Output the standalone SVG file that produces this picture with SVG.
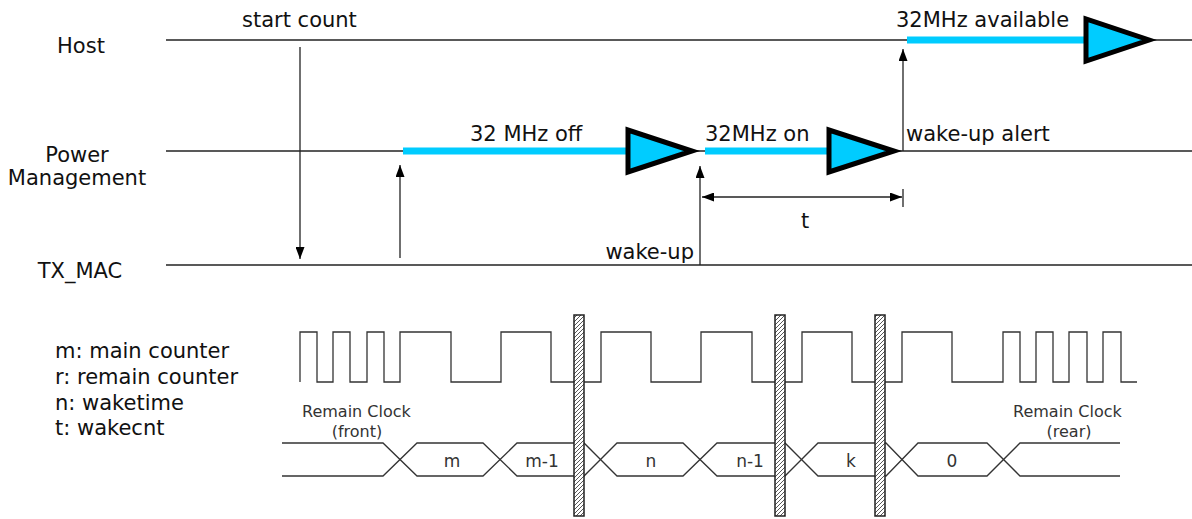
<svg xmlns="http://www.w3.org/2000/svg" width="1192" height="519" viewBox="0 0 1192 519">
<style>
text{font-family:"DejaVu Sans","Verdana",sans-serif;fill:#111}
.lbl{font-size:21px}
.sm{font-size:16px;fill:#333}
.bl{font-size:17px;fill:#333}
.lane{stroke:#222;stroke-width:1.3;fill:none}
.arr{stroke:#222;stroke-width:1.3;fill:none;marker-end:url(#ah)}
.cyan{stroke:#00CCFF;stroke-width:7;fill:none}
.tri{fill:#00CCFF;stroke:#000;stroke-width:5;stroke-linejoin:miter;stroke-miterlimit:10}
.wave{stroke:#333;stroke-width:1.3;fill:none}
.bar{fill:url(#hatch);stroke:#222;stroke-width:1.5}
</style>
<defs>
<marker id="ah" viewBox="0 0 12 9" refX="12" refY="4.5" markerWidth="12" markerHeight="9" markerUnits="userSpaceOnUse" orient="auto-start-reverse"><path d="M0,0 L12,4.5 L0,9 z" fill="#000"/></marker>
<pattern id="hatch" patternUnits="userSpaceOnUse" width="4" height="4"><rect width="4" height="4" fill="#fff"/><path d="M-1,1 L1,-1 M0,4 L4,0 M3,5 L5,3" stroke="#444" stroke-width="0.9"/></pattern>
</defs>
<g id="lanes">
<line class="lane" x1="166" y1="40" x2="1192" y2="40"/>
<line class="lane" x1="166" y1="151" x2="1192" y2="151"/>
<line class="lane" x1="166" y1="265" x2="1192" y2="265"/>
<text class="lbl" x="81" y="53" text-anchor="middle">Host</text>
<text class="lbl" x="77" y="162" text-anchor="middle">Power</text>
<text class="lbl" x="77" y="185" text-anchor="middle">Management</text>
<text class="lbl" x="80" y="278" text-anchor="middle">TX_MAC</text>
</g>
<g id="phase-off">
<line class="cyan" x1="403" y1="151" x2="628" y2="151"/>
<polygon class="tri" points="628,130 628,172 692,151"/>
<text class="lbl" x="470" y="141">32 MHz off</text>
</g>
<g id="phase-on">
<line class="cyan" x1="705" y1="151" x2="829" y2="151"/>
<polygon class="tri" points="829,130 829,172 894,151"/>
<text class="lbl" x="705" y="141">32MHz on</text>
</g>
<g id="phase-available">
<line class="cyan" x1="907" y1="40" x2="1086" y2="40"/>
<polygon class="tri" points="1086,19 1086,61 1149,40"/>
<text class="lbl" x="896" y="27">32MHz available</text>
</g>
<g id="connectors">
<line class="arr" x1="300" y1="47" x2="300" y2="259"/>
<line class="arr" x1="400" y1="258" x2="400" y2="165"/>
<line class="arr" x1="700" y1="265" x2="700" y2="166"/>
<line class="arr" x1="903" y1="151" x2="903" y2="49"/>
<line class="arr" x1="702" y1="197" x2="902" y2="197" style="marker-start:url(#ah)"/>
<line class="lane" x1="903" y1="189" x2="903" y2="207"/>
</g>
<g id="annotations">
<text class="lbl" x="242" y="27">start count</text>
<text class="lbl" x="694" y="259" text-anchor="end">wake-up</text>
<text class="lbl" x="906" y="141">wake-up alert</text>
<text class="lbl" x="805" y="228" text-anchor="middle">t</text>
</g>
<g id="legend">
<text class="lbl" x="55" y="358">m: main counter</text>
<text class="lbl" x="55" y="384">r: remain counter</text>
<text class="lbl" x="55" y="410">n: waketime</text>
<text class="lbl" x="55" y="435">t: wakecnt</text>
</g>
<g id="clock">
<path class="wave" d="M300,382 V332 H317 V382 H333 V332 H350 V382 H367 V332 H384 V382 H400 V332 H451 V382 H501 V332 H551 V382 H601 V332 H651 V382 H701 V332 H752 V382 H802 V332 H852 V382 H902 V332 H952 V382 H1003 V332 H1020 V382 H1036 V332 H1053 V382 H1069 V332 H1087 V382 H1103 V332 H1121 V382 H1137"/>
</g>
<g id="bus">
<path class="wave" d="M282,443 H383 L417,476 H483 L517,443 H584 L617,476 H683 L717,443 H785 L818,476 H886 L918,443 H987 L1020,476 H1120"/>
<path class="wave" d="M282,476 H383 L417,443 H483 L517,476 H584 L617,443 H683 L717,476 H785 L818,443 H886 L918,476 H987 L1020,443 H1120"/>
<text class="sm" x="302" y="417">Remain Clock</text>
<text class="sm" x="357" y="437" text-anchor="middle">(front)</text>
<text class="sm" x="1013" y="417">Remain Clock</text>
<text class="sm" x="1069" y="437" text-anchor="middle">(rear)</text>
<text class="bl" x="452" y="467" text-anchor="middle">m</text>
<text class="bl" x="542" y="467" text-anchor="middle">m-1</text>
<text class="bl" x="651" y="467" text-anchor="middle">n</text>
<text class="bl" x="750" y="467" text-anchor="middle">n-1</text>
<text class="bl" x="851" y="467" text-anchor="middle">k</text>
<text class="bl" x="952" y="467" text-anchor="middle">0</text>
</g>
<g id="bars">
<rect class="bar" x="574" y="315" width="10" height="201"/>
<rect class="bar" x="775" y="315" width="10" height="201"/>
<rect class="bar" x="875" y="315" width="10" height="201"/>
</g>
</svg>
